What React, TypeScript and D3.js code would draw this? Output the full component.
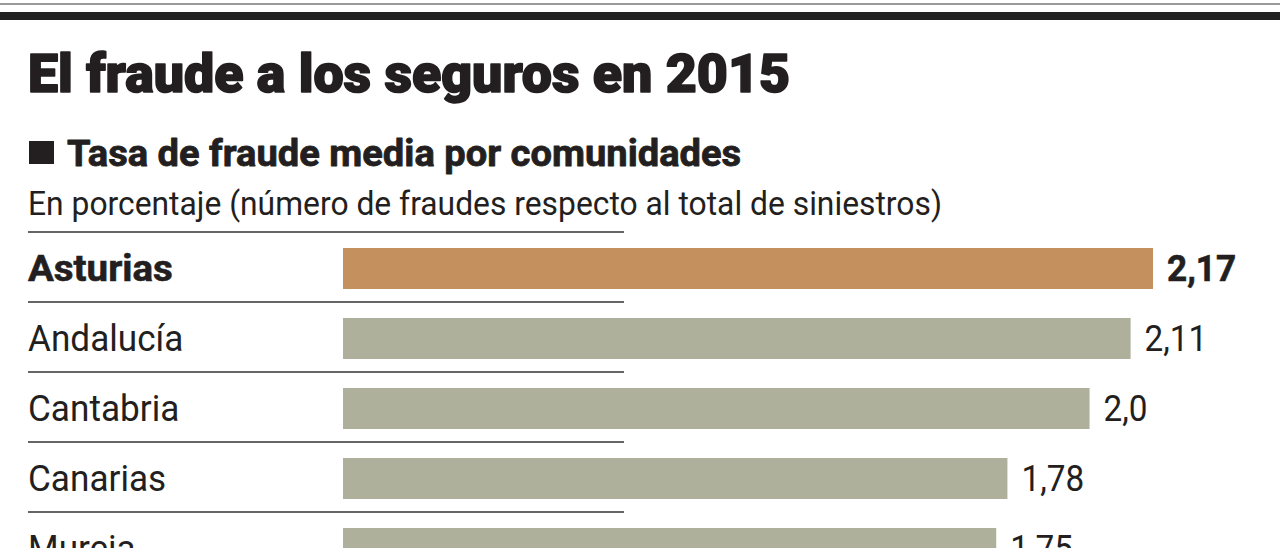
import React from "react";
import * as d3 from "d3";

const categories = ["Asturias", "Andalucía", "Cantabria", "Canarias", "Murcia"];
const values = [2.17, 2.11, 2.0, 1.78, 1.75];
const valueLabels = ["2,17", "2,11", "2,0", "1,78", "1,75"];
const highlight = "Asturias";

const title = "El fraude a los seguros en 2015";
const subtitle = "Tasa de fraude media por comunidades";
const note = "En porcentaje (número de fraudes respecto al total de siniestros)";

const W = 1280;
const H = 548;
const FONT = "Roboto, 'Noto Sans', sans-serif";
const INK = "#231f20";

const sx = (x0: number, s: number) => `translate(${x0},0) scale(${s},1) translate(${-x0},0)`;

export default function App() {
  const y = d3.scaleBand<string>().domain(categories).range([232, 232 + 70 * categories.length]);
  const x = d3.scaleLinear().domain([0, 2.17]).range([343, 1153]);

  return (
    <div style={{ position: "absolute", left: 0, top: 0 }}>
      <svg width={W} height={H} style={{ display: "block", background: "#fff" }}>
        <rect x={0} y={3} width={W} height={2} fill="#9a9a9a" />
        <rect x={0} y={12} width={W} height={8} fill="#222" />
        <text x={28} y={92} fontFamily={FONT} fontWeight={900} fontSize={53} fill={INK}
          stroke={INK} strokeWidth={1.6} strokeLinejoin="round" transform={sx(28, 1.013)}>{title}</text>
        <rect x={29} y={141} width={25} height={23} fill={INK} />
        <text x={67} y={166} fontFamily={FONT} fontWeight={700} fontSize={37} fill={INK}
          stroke={INK} strokeWidth={0.8} strokeLinejoin="round" transform={sx(67, 1.03)}>{subtitle}</text>
        <text x={28} y={215} fontFamily={FONT} fontWeight={400} fontSize={33} fill={INK}
          transform={sx(28, 0.964)}>{note}</text>
        {categories.map((c, i) => {
          const top = y(c)!;
          const hl = c === highlight;
          const vx = x(values[i]) + 14;
          return (
            <g key={c}>
              <line x1={28} x2={624} y1={top} y2={top} stroke="#666" strokeWidth={2} />
              <rect x={x(0)} y={top + 16} width={x(values[i]) - x(0)} height={41}
                fill={hl ? "#c4905e" : "#aeb09c"} />
              <text x={28} y={top + 49} fontFamily={FONT} fontWeight={hl ? 700 : 400} fontSize={37} fill={INK}
                stroke={hl ? INK : "none"} strokeWidth={hl ? 0.6 : 0}
                transform={sx(28, hl ? 1.04 : 0.95)}>{c}</text>
              <text x={vx} y={top + 49} fontFamily={FONT} fontWeight={hl ? 700 : 400} fontSize={37} fill={INK}
                stroke={hl ? INK : "none"} strokeWidth={hl ? 0.6 : 0}
                transform={sx(vx, hl ? 0.95 : 0.9)}>{valueLabels[i]}</text>
            </g>
          );
        })}
      </svg>
    </div>
  );
}
